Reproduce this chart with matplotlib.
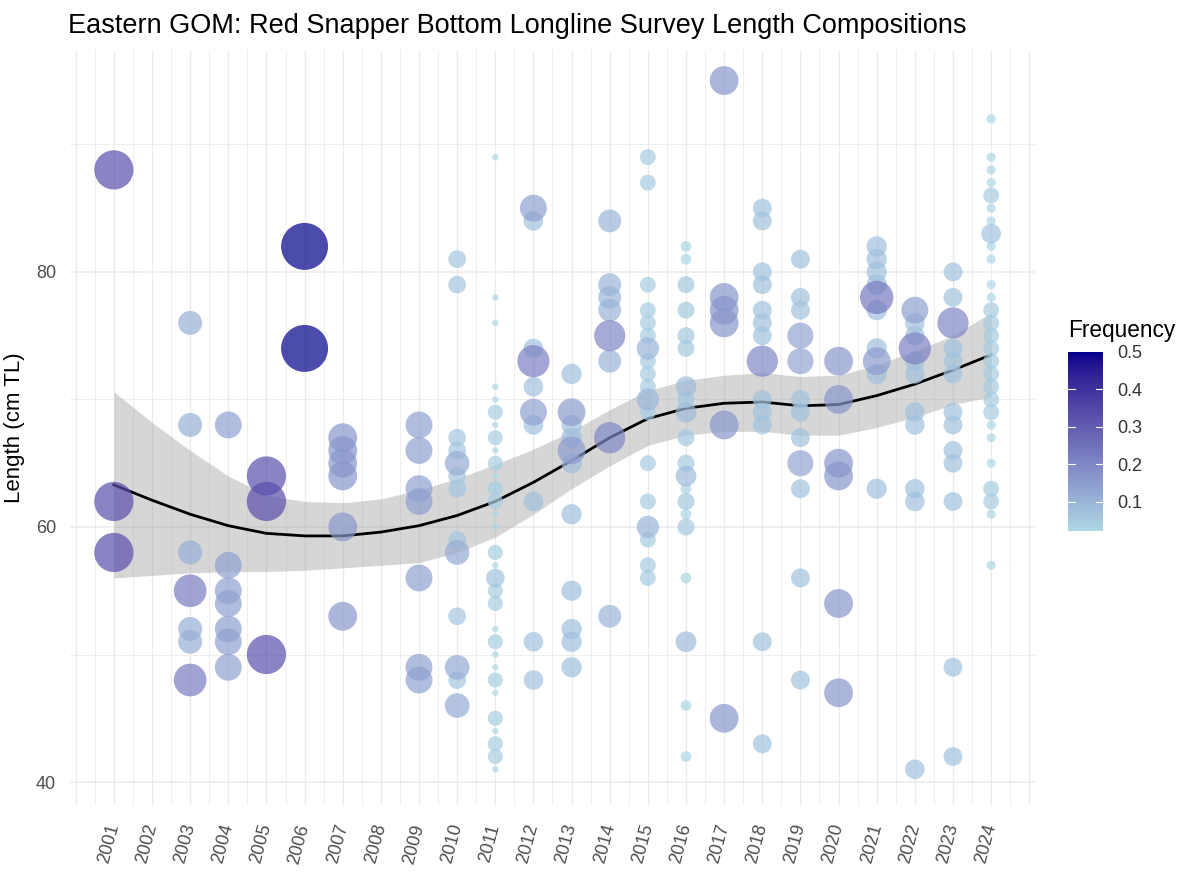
import numpy as np
import matplotlib
matplotlib.use("Agg")
import matplotlib.pyplot as plt
from matplotlib.colors import ListedColormap, Normalize

plt.rcParams['font.family'] = ['Liberation Sans', 'DejaVu Sans']

# lengths (cm TL) per survey year and the number of fish at each length
len_2001 = [88, 62, 58]
cnt_2001 = [1, 1, 1]
len_2003 = [76, 68, 58, 55, 52, 51, 48]
cnt_2003 = [1, 1, 1, 2, 1, 1, 2]
len_2004 = [68, 57, 55, 54, 52, 51, 49]
cnt_2004 = [1, 1, 1, 1, 1, 1, 1]
len_2005 = [64, 62, 50]
cnt_2005 = [1, 1, 1]
len_2006 = [82, 74]
cnt_2006 = [1, 1]
len_2007 = [67, 66, 65, 64, 60, 53]
cnt_2007 = [1, 1, 1, 1, 1, 1]
len_2009 = [68, 66, 63, 62, 56, 49, 48]
cnt_2009 = [1, 1, 1, 1, 1, 1, 1]
len_2010 = [81, 79, 67, 66, 65, 64, 63, 59, 58, 53, 49, 48, 46]
cnt_2010 = [1, 1, 1, 1, 2, 1, 1, 1, 2, 1, 2, 1, 2]
len_2011 = [89, 78, 76, 71, 70, 69, 68, 67, 66, 65, 64, 63, 62, 61, 60, 58,
            57, 56, 55, 54, 52, 51, 50, 49, 48, 47, 45, 44, 43, 42, 41]
cnt_2011 = [1, 1, 1, 1, 1, 2, 1, 2, 1, 2, 1, 2, 2, 1, 1, 2,
            1, 3, 2, 2, 1, 2, 1, 1, 2, 1, 2, 1, 2, 2, 1]
len_2012 = [85, 84, 74, 73, 71, 69, 68, 62, 51, 48]
cnt_2012 = [2, 1, 1, 3, 1, 2, 1, 1, 1, 1]
len_2013 = [72, 69, 68, 67, 66, 65, 61, 55, 52, 51, 49]
cnt_2013 = [1, 2, 1, 1, 2, 1, 1, 1, 1, 1, 1]
len_2014 = [84, 79, 78, 77, 75, 73, 67, 53]
cnt_2014 = [1, 1, 1, 1, 2, 1, 2, 1]
len_2015 = [89, 87, 79, 77, 76, 75, 74, 73, 72, 71, 70, 69, 65, 62, 60, 59, 57, 56]
cnt_2015 = [1, 1, 1, 1, 1, 1, 2, 1, 1, 1, 2, 1, 1, 1, 2, 1, 1, 1]
len_2016 = [82, 81, 79, 77, 75, 74, 71, 70, 69, 67, 65, 64, 63, 62, 61, 60, 56, 51, 46, 42]
cnt_2016 = [1, 1, 2, 2, 2, 2, 3, 2, 3, 2, 2, 3, 1, 2, 1, 2, 1, 3, 1, 1]
len_2017 = [95, 78, 77, 76, 68, 45]
cnt_2017 = [1, 1, 1, 1, 1, 1]
len_2018 = [85, 84, 80, 79, 77, 76, 75, 73, 70, 69, 68, 51, 43]
cnt_2018 = [1, 1, 1, 1, 1, 1, 1, 3, 1, 1, 1, 1, 1]
len_2019 = [81, 78, 77, 75, 73, 70, 69, 67, 65, 63, 56, 48]
cnt_2019 = [1, 1, 1, 2, 2, 1, 1, 1, 2, 1, 1, 1]
len_2020 = [73, 70, 65, 64, 54, 47]
cnt_2020 = [1, 1, 1, 1, 1, 1]
len_2021 = [82, 81, 80, 79, 78, 77, 74, 73, 72, 63]
cnt_2021 = [1, 1, 1, 1, 3, 1, 1, 2, 1, 1]
len_2022 = [77, 76, 75, 74, 73, 72, 69, 68, 63, 62, 41]
cnt_2022 = [2, 1, 1, 3, 1, 1, 1, 1, 1, 1, 1]
len_2023 = [80, 78, 76, 74, 73, 72, 69, 68, 66, 65, 62, 49, 42]
cnt_2023 = [1, 1, 3, 1, 1, 1, 1, 1, 1, 1, 1, 1, 1]
len_2024 = [92, 89, 88, 87, 86, 85, 84, 83, 82, 81, 79, 78, 77, 76, 75, 74,
            73, 72, 71, 70, 69, 68, 67, 65, 63, 62, 61, 57]
cnt_2024 = [1, 1, 1, 1, 2, 1, 1, 3, 1, 1, 1, 1, 2, 2, 2, 2,
            2, 2, 2, 2, 2, 1, 1, 1, 2, 2, 1, 1]

survey = {
    2001: (len_2001, cnt_2001), 2003: (len_2003, cnt_2003), 2004: (len_2004, cnt_2004),
    2005: (len_2005, cnt_2005), 2006: (len_2006, cnt_2006), 2007: (len_2007, cnt_2007),
    2009: (len_2009, cnt_2009), 2010: (len_2010, cnt_2010), 2011: (len_2011, cnt_2011),
    2012: (len_2012, cnt_2012), 2013: (len_2013, cnt_2013), 2014: (len_2014, cnt_2014),
    2015: (len_2015, cnt_2015), 2016: (len_2016, cnt_2016), 2017: (len_2017, cnt_2017),
    2018: (len_2018, cnt_2018), 2019: (len_2019, cnt_2019), 2020: (len_2020, cnt_2020),
    2021: (len_2021, cnt_2021), 2022: (len_2022, cnt_2022), 2023: (len_2023, cnt_2023),
    2024: (len_2024, cnt_2024),
}

# loess trend and its confidence band, read at each year
fit_years = list(range(2001, 2025))
fit_mid = [63.3, 62.1, 61.0, 60.1, 59.5, 59.3, 59.3, 59.6, 60.1, 60.9, 62.0, 63.5,
           65.2, 67.0, 68.5, 69.3, 69.7, 69.8, 69.5, 69.6, 70.3, 71.2, 72.3, 73.5]
fit_lo = [56.0, 56.2, 56.4, 56.5, 56.5, 56.6, 56.8, 57.0, 57.2, 58.0, 59.2, 61.0,
          63.0, 64.8, 66.4, 67.2, 67.5, 67.5, 67.2, 67.2, 67.8, 68.6, 69.6, 70.2]
fit_hi = [70.6, 68.2, 66.0, 64.0, 62.5, 62.0, 61.9, 62.2, 62.9, 63.8, 64.9, 66.1,
          67.5, 69.2, 70.7, 71.5, 71.9, 72.1, 71.8, 71.9, 72.7, 73.8, 75.0, 76.8]


# ggplot-like gradient: interpolate lightblue -> darkblue in CIELAB
WHITE = np.array([0.95047, 1.0, 1.08883])
M = np.array([[0.4124, 0.3576, 0.1805], [0.2126, 0.7152, 0.0722], [0.0193, 0.1192, 0.9505]])


def rgb_to_lab(rgb):
    c = np.asarray(rgb, float)
    lin = np.where(c <= 0.04045, c / 12.92, ((c + 0.055) / 1.055) ** 2.4)
    xyz = M @ lin / WHITE
    f = np.where(xyz > 0.008856, np.cbrt(xyz), 7.787 * xyz + 16 / 116)
    return np.array([116 * f[1] - 16, 500 * (f[0] - f[1]), 200 * (f[1] - f[2])])


def lab_to_rgb(lab):
    fy = (lab[0] + 16) / 116
    f = np.array([fy + lab[1] / 500, fy, fy - lab[2] / 200])
    xyz = np.where(f ** 3 > 0.008856, f ** 3, (f - 16 / 116) / 7.787) * WHITE
    lin = np.linalg.solve(M, xyz)
    c = np.where(lin <= 0.0031308, 12.92 * lin, 1.055 * np.clip(lin, 0, None) ** (1 / 2.4) - 0.055)
    return np.clip(c, 0, 1)


lo_lab = rgb_to_lab(np.array([173, 216, 230]) / 255)
hi_lab = rgb_to_lab(np.array([0, 0, 139]) / 255)
cmap = ListedColormap([lab_to_rgb(lo_lab + t * (hi_lab - lo_lab)) for t in np.linspace(0, 1, 256)])

xs, ys, fs = [], [], []
for yr, (lens, cnts) in survey.items():
    tot = sum(cnts)
    for l, c in zip(lens, cnts):
        xs.append(yr)
        ys.append(l)
        fs.append(c / tot)
xs, ys, fs = np.array(xs), np.array(ys), np.array(fs)
fmin, fmax = fs.min(), fs.max()
norm = Normalize(fmin, fmax)

# size scale by area, like scale_size()
diam_px = 6.5 + 40.5 * np.sqrt((fs - fmin) / (fmax - fmin))
sizes = (diam_px * 0.72) ** 2

fig = plt.figure(figsize=(11.86, 8.82), dpi=100)
ax = fig.add_axes([70 / 1186, 1 - 805 / 882, 965 / 1186, 755 / 882])
ax.set_xlim(1999.85, 2025.15)
ax.set_ylim(38.2, 97.4)

for x in np.arange(2000, 2025.01, 0.5):
    ax.axvline(x, color='#EBEBEB', lw=1.0 if x % 1 == 0 else 0.6, zorder=0)
for yv in [50, 70, 90]:
    ax.axhline(yv, color='#EBEBEB', lw=0.6, zorder=0)
for yv in [40, 60, 80]:
    ax.axhline(yv, color='#EBEBEB', lw=1.1, zorder=0)

ax.fill_between(fit_years, fit_lo, fit_hi, color='#999999', alpha=0.4, lw=0, zorder=1)
ax.plot(fit_years, fit_mid, color='black', lw=2.0, zorder=2)

order = np.argsort(fs)
ax.scatter(xs[order], ys[order], s=sizes[order], c=fs[order], cmap=cmap, norm=norm,
           alpha=0.7, linewidths=0, zorder=3)

for s in ax.spines.values():
    s.set_visible(False)
ax.set_xticks(fit_years)
ax.set_xticklabels([str(y) for y in fit_years], rotation=75, ha='right',
                   rotation_mode='anchor', va='center')
ax.set_yticks([40, 60, 80])
ax.tick_params(axis='both', length=0, colors='#4D4D4D', labelsize=13)
ax.tick_params(axis='y', pad=10)
ax.tick_params(axis='x', pad=14)
ax.set_ylabel('Length (cm TL)', fontsize=16, color='black', labelpad=8)
fig.text(68 / 1186, 1 - 26 / 882, 'Eastern GOM: Red Snapper Bottom Longline Survey Length Compositions',
         fontsize=19.5, va='center', ha='left')

# colour bar legend
cax = fig.add_axes([1068 / 1186, 1 - 531 / 882, 35 / 1186, 179 / 882])
grad = np.linspace(fmin, fmax, 256).reshape(-1, 1)
cax.imshow(grad, aspect='auto', origin='lower', cmap=cmap, norm=norm,
           extent=[0, 1, fmin, fmax])
cax.set_xlim(0, 1)
cax.set_ylim(fmin, fmax)
cax.set_xticks([])
cax.yaxis.tick_right()
cax.set_yticks([0.1, 0.2, 0.3, 0.4, 0.5])
cax.set_yticklabels(['0.1', '0.2', '0.3', '0.4', '0.5'])
cax.tick_params(axis='y', length=0, labelsize=13, colors='#333333', pad=10)
for t in [0.1, 0.2, 0.3, 0.4]:
    cax.plot([0, 0.2], [t, t], color='white', lw=0.8)
    cax.plot([0.8, 1], [t, t], color='white', lw=0.8)
for s in cax.spines.values():
    s.set_visible(False)
fig.text(1068 / 1186, 1 - 330 / 882, 'Frequency', fontsize=16.3, va='center', ha='left')

fig.savefig('out.png', dpi=100)
